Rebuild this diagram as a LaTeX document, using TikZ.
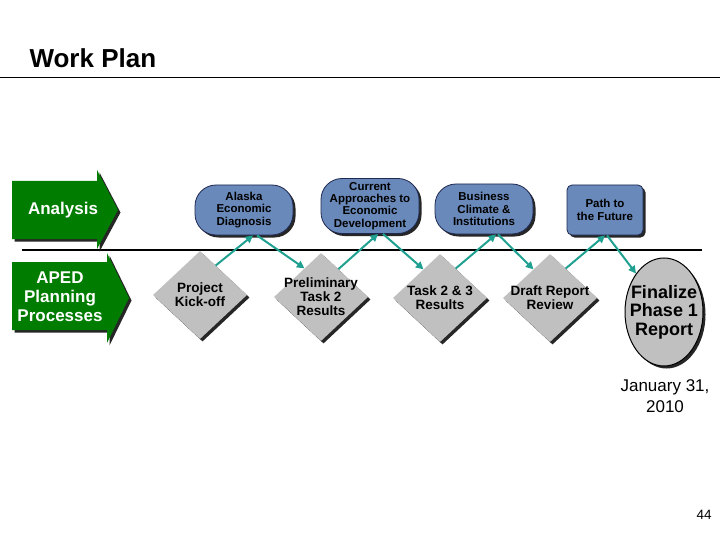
\documentclass[tikz,border=0pt]{standalone}
\usepackage{fontspec}
\setmainfont{Liberation Sans}
\usetikzlibrary{positioning,arrows.meta,shapes.geometric,shadows}

\definecolor{planblue}{RGB}{105,137,186}
\definecolor{plannavy}{RGB}{30,40,80}
\definecolor{plangreen}{RGB}{0,125,0}
\definecolor{plangray}{RGB}{192,192,192}
\definecolor{planteal}{RGB}{32,160,144}

\begin{document}
\begin{tikzpicture}[
  x=1pt, y=-1pt,
  shade/.style={drop shadow={shadow xshift=2.5pt,shadow yshift=-2.5pt,fill=black!85,opacity=1}},
  task/.style={rectangle,draw=plannavy,line width=0.8pt,fill=planblue,rounded corners=21pt,shade,
    align=center,font=\fontsize{11.5}{12.3}\selectfont\bfseries,minimum width=98pt,minimum height=50pt,inner sep=2pt},
  mile/.style={diamond,fill=plangray,shade,minimum width=94pt,minimum height=88pt,inner sep=0pt},
  miletext/.style={align=center,font=\fontsize{13.5}{14}\selectfont\bfseries},
  phase/.style={fill=plangreen,shade},
  phasetext/.style={text=white,align=center,font=\fontsize{17}{19}\selectfont\bfseries},
  flow/.style={-{Triangle[length=7.5pt,width=7.5pt]},line width=2pt,draw=planteal},
]
\useasboundingbox (0,0) rectangle (720,540);

% title and rules
\node[anchor=west,font=\fontsize{26}{30}\selectfont\bfseries] (title) at (26,58) {Work Plan};
\draw[line width=1pt] (0,77.5) -- (720,77.5);
\draw[line width=1.8pt] (22,250) -- (702,250);

% phase arrows
\fill[phase] (12,181) -- (97,181) -- (97,170) -- (118,210) -- (97,249) -- (97,239) -- (12,239) -- cycle;
\node[phasetext] (analysis) at (63,210) {Analysis};
\fill[phase] (12,262) -- (107,262) -- (107,253) -- (129,298) -- (107,343) -- (107,330) -- (12,330) -- cycle;
\node[phasetext] (aped) at (60,297) {APED\\Planning\\Processes};

% studies above the line
\node[task] (alaska) at (244,210) {Alaska\\Economic\\Diagnosis};
\node[task,minimum height=55pt] (current) at (370,206) {Current\\Approaches to\\Economic\\Development};
\node[task] (business) at (484,209) {Business\\Climate \&\\Institutions};
\node[task,rounded corners=5pt,minimum width=76pt] (future) at (605,210) {Path to\\the Future};

% milestones below the line
\node[mile] (kick) at (200,295) {};
\node[miletext] (kicktxt) at (kick) {Project\\Kick-off};
\node[mile] (prelim) at (321,297) {};
\node[miletext] (prelimtxt) at (prelim) {Preliminary\\Task 2\\Results};
\node[mile] (tasks) at (440,298) {};
\node[miletext] (taskstxt) at (tasks) {Task 2 \& 3\\Results};
\node[mile] (draft) at (550,298) {};
\node[miletext] (drafttxt) at (draft) {Draft Report\\Review};
\node[ellipse,draw=black,line width=1pt,fill=plangray,shade,minimum width=78pt,minimum height=108pt] (finalize) at (664,312) {};
\node[align=center,font=\fontsize{18}{18.5}\selectfont\bfseries] (finaltxt) at (finalize) {Finalize\\Phase 1\\Report};

\node[align=center,font=\fontsize{17}{21}\selectfont] (date) at (665,396) {January 31,\\2010};
\node[font=\fontsize{13.5}{16}\selectfont] (page) at (704,515) {44};

\draw[flow] (kick.62) -- ([xshift=9pt]alaska.south);
\draw[flow] ([xshift=13pt]alaska.south) -- (prelim.120);
\draw[flow] (prelim.58) -- ([xshift=8pt]current.south);
\draw[flow] ([xshift=13pt]current.south) -- (tasks.120);
\draw[flow] (tasks.62) -- ([xshift=12pt]business.south);
\draw[flow] ([xshift=14pt]business.south) -- (draft.120);
\draw[flow] (draft.62) -- (future.south);
\draw[flow] ([xshift=2pt]future.south) -- (finalize.126);
\end{tikzpicture}
\end{document}
